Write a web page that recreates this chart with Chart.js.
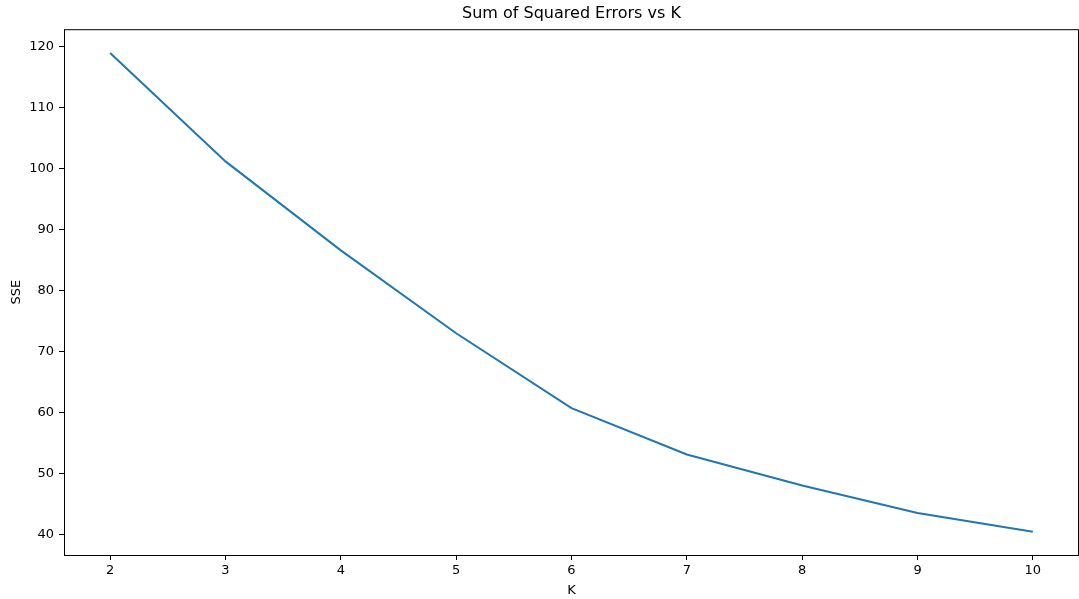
<!DOCTYPE html>
<html>
<head>
<meta charset="utf-8">
<script src="https://cdn.jsdelivr.net/npm/chart.js@4/dist/chart.umd.min.js"></script>
<style>
    html, body { margin: 0; padding: 0; background: #fff; }
    canvas { display: block; }
</style>
</head>
<body>
<canvas id="chart" width="1079" height="599"></canvas>
<script>
// data
const kValues = [2, 3, 4, 5, 6, 7, 8, 9, 10];
const sseValues = [119.0, 101.2, 86.6, 73.0, 60.7, 53.1, 48.0, 43.5, 40.4];

const xTicks = [2, 3, 4, 5, 6, 7, 8, 9, 10];
const yTicks = [40, 50, 60, 70, 80, 90, 100, 110, 120];

const font = "'DejaVu Sans', sans-serif";

// frame around plot area + center title over the axes (like matplotlib)
const frame = {
    id: "frame",
    afterLayout(chart) {
        const a = chart.chartArea;
        if (chart.titleBlock) {
            chart.titleBlock.left = a.left;
            chart.titleBlock.right = a.right;
        }
    },
    afterDatasetsDraw(chart) {
        const a = chart.chartArea;
        const ctx = chart.ctx;
        ctx.save();
        ctx.strokeStyle = "#000";
        ctx.lineWidth = 1;
        ctx.strokeRect(a.left + 0.5, a.top + 0.5, a.right - a.left - 1, a.bottom - a.top);
        ctx.restore();
    }
};

new Chart(document.getElementById("chart"), {
    type: "line",
    data: {
        datasets: [{
            data: kValues.map((k, i) => ({ x: k, y: sseValues[i] })),
            borderColor: "#1f77b4",
            borderWidth: 2,
            pointRadius: 0,
            tension: 0,
            fill: false
        }]
    },
    options: {
        responsive: false,
        animation: false,
        layout: { padding: 0 },
        plugins: {
            legend: { display: false },
            tooltip: { enabled: false },
            title: {
                display: true,
                text: "Sum of Squared Errors vs K",
                color: "#000",
                font: { family: font, size: 16, weight: "normal" },
                padding: { top: 4, bottom: 6 }
            }
        },
        scales: {
            x: {
                type: "linear",
                min: 1.6,
                max: 10.4,
                afterBuildTicks: (axis) => { axis.ticks = xTicks.map(v => ({ value: v })); },
                afterFit: (axis) => { axis.height = 44; },
                grid: { drawOnChartArea: false, drawTicks: true, tickLength: 5, tickColor: "#000" },
                border: { display: false },
                ticks: { color: "#000", font: { family: font, size: 13 }, padding: 3, maxRotation: 0 },
                title: {
                    display: true,
                    text: "K",
                    color: "#000",
                    font: { family: font, size: 13 },
                    padding: { top: 0, bottom: 1 }
                }
            },
            y: {
                type: "linear",
                min: 36.6,
                max: 122.9,
                afterBuildTicks: (axis) => { axis.ticks = yTicks.map(v => ({ value: v })); },
                afterFit: (axis) => { axis.width = 64; },
                grid: { drawOnChartArea: false, drawTicks: true, tickLength: 5, tickColor: "#000" },
                border: { display: false },
                ticks: { color: "#000", font: { family: font, size: 13 }, padding: 5 },
                title: {
                    display: true,
                    text: "SSE",
                    color: "#000",
                    font: { family: font, size: 13 },
                    padding: { top: 9, bottom: 0 }
                }
            }
        }
    },
    plugins: [frame]
});
</script>
</body>
</html>
